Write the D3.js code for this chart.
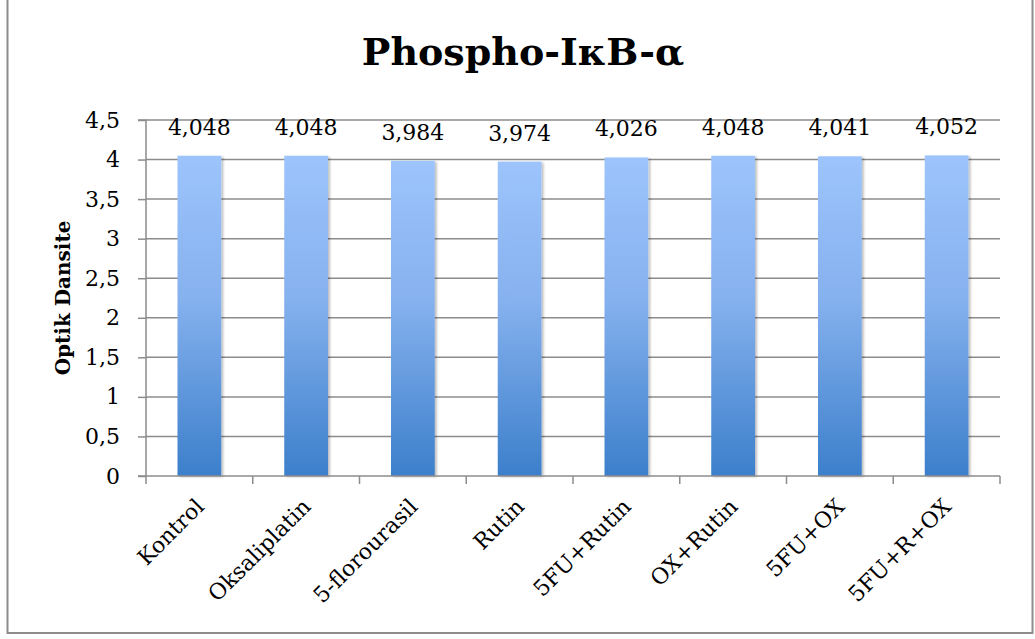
<!DOCTYPE html>
<html>
<head>
<meta charset="utf-8">
<script src="https://cdn.jsdelivr.net/npm/d3@7"></script>
<style>
  html, body { margin: 0; padding: 0; background: #fff; }
  svg { display: block; }
</style>
</head>
<body>
<svg id="chart" width="1035" height="639"></svg>
<script>
// Phospho-IκB-α optical density per treatment group
const categories = ["Kontrol", "Oksaliplatin", "5-florourasil", "Rutin", "5FU+Rutin", "OX+Rutin", "5FU+OX", "5FU+R+OX"];
const values = [4.048, 4.048, 3.984, 3.974, 4.026, 4.048, 4.041, 4.052];
const yTicks = [0, 0.5, 1, 1.5, 2, 2.5, 3, 3.5, 4, 4.5];
const titleText = "Phospho-IκB-α";
const yTitle = "Optik Dansite";

const W = 1035, H = 639;
const margin = { left: 146, right: 35, top: 120, bottom: 163 };
const serif = "'DejaVu Serif', 'Liberation Serif', serif";

const svg = d3.select("#chart");

// outer frame
svg.append("rect")
  .attr("x", 7.5).attr("y", -2).attr("width", 1025).attr("height", 635)
  .attr("fill", "#fff").attr("stroke", "#8c8c8c").attr("stroke-width", 2);

const x = d3.scaleBand().domain(categories).range([margin.left, W - margin.right]).paddingInner(0.59).paddingOuter(0.295);
const xb = d3.scaleBand().domain(categories).range([margin.left, W - margin.right]);
const y = d3.scaleLinear().domain([0, 4.5]).range([H - margin.bottom, margin.top]);

const defs = svg.append("defs");
const grad = defs.append("linearGradient").attr("id", "barFill")
  .attr("x1", 0).attr("y1", 0).attr("x2", 0).attr("y2", 1);
grad.append("stop").attr("offset", "0%").attr("stop-color", "#9dc4fc");
grad.append("stop").attr("offset", "45%").attr("stop-color", "#85b1ee");
grad.append("stop").attr("offset", "100%").attr("stop-color", "#3c7fcb");

const shadow = defs.append("filter").attr("id", "shadow").attr("x", "-20%").attr("y", "-5%").attr("width", "140%").attr("height", "110%");
shadow.append("feDropShadow").attr("dx", 2).attr("dy", 1).attr("stdDeviation", 1.2).attr("flood-color", "#000").attr("flood-opacity", 0.25);

// horizontal gridlines
svg.append("g").selectAll("line").data(yTicks.filter(d => d > 0)).join("line")
  .attr("x1", margin.left).attr("x2", W - margin.right)
  .attr("y1", d => y(d)).attr("y2", d => y(d))
  .attr("stroke", "#8c8c8c").attr("stroke-width", 1.5);

// bars
svg.append("g").selectAll("rect").data(values).join("rect")
  .attr("x", (d, i) => x(categories[i]))
  .attr("y", d => y(d))
  .attr("width", x.bandwidth())
  .attr("height", d => y(0) - y(d))
  .attr("fill", "url(#barFill)")
  .attr("filter", "url(#shadow)");

// value labels
svg.append("g").selectAll("text").data(values).join("text")
  .attr("x", (d, i) => x(categories[i]) + x.bandwidth() / 2)
  .attr("y", d => y(d) - 21)
  .attr("text-anchor", "middle")
  .attr("font-family", serif).attr("font-size", 22).attr("fill", "#000")
  .text(d => d3.format(".3f")(d).replace(".", ","));

// y axis
const yAxis = d3.axisLeft(y).tickValues(yTicks).tickSize(8).tickPadding(18)
  .tickFormat(d => String(d).replace(".", ","));
const gy = svg.append("g").attr("transform", `translate(${margin.left},0)`).call(yAxis);
gy.select(".domain").attr("stroke", "#8c8c8c").attr("stroke-width", 1.5).attr("d", `M-8,${y(4.5)}H0V${y(0)}H-8`);
gy.selectAll(".tick line").attr("stroke", "#8c8c8c").attr("stroke-width", 1.5);
gy.selectAll(".tick text").attr("font-family", serif).attr("font-size", 22).attr("fill", "#000");

// x axis
const xAxis = d3.axisBottom(xb).tickSize(0).tickFormat("");
const gx = svg.append("g").attr("transform", `translate(0,${y(0)})`).call(xAxis);
gx.select(".domain").attr("stroke", "#8c8c8c").attr("stroke-width", 1.5).attr("d", `M${margin.left},0H${W - margin.right}`);
const edges = categories.map(c => xb(c)).concat([W - margin.right]);
gx.append("g").selectAll("line").data(edges).join("line")
  .attr("x1", d => d).attr("x2", d => d).attr("y1", 0).attr("y2", 8)
  .attr("stroke", "#8c8c8c").attr("stroke-width", 1.5);

// rotated category labels
svg.append("g").selectAll("text").data(categories).join("text")
  .attr("transform", d => `translate(${xb(d) + xb.bandwidth() / 2 + 6},${y(0) + 32}) rotate(-45)`)
  .attr("text-anchor", "end")
  .attr("font-family", serif).attr("font-size", 22).attr("fill", "#000")
  .text(d => d);

// y axis title
svg.append("text")
  .attr("transform", `translate(70,${(y(0) + y(4.5)) / 2}) rotate(-90)`)
  .attr("text-anchor", "middle")
  .attr("font-family", serif).attr("font-weight", "bold").attr("font-size", 20).attr("fill", "#000")
  .text(yTitle);

// chart title
svg.append("text")
  .attr("x", 523).attr("y", 65)
  .attr("text-anchor", "middle")
  .attr("font-family", serif).attr("font-weight", "bold").attr("font-size", 38).attr("fill", "#000")
  .text(titleText);
</script>
</body>
</html>
